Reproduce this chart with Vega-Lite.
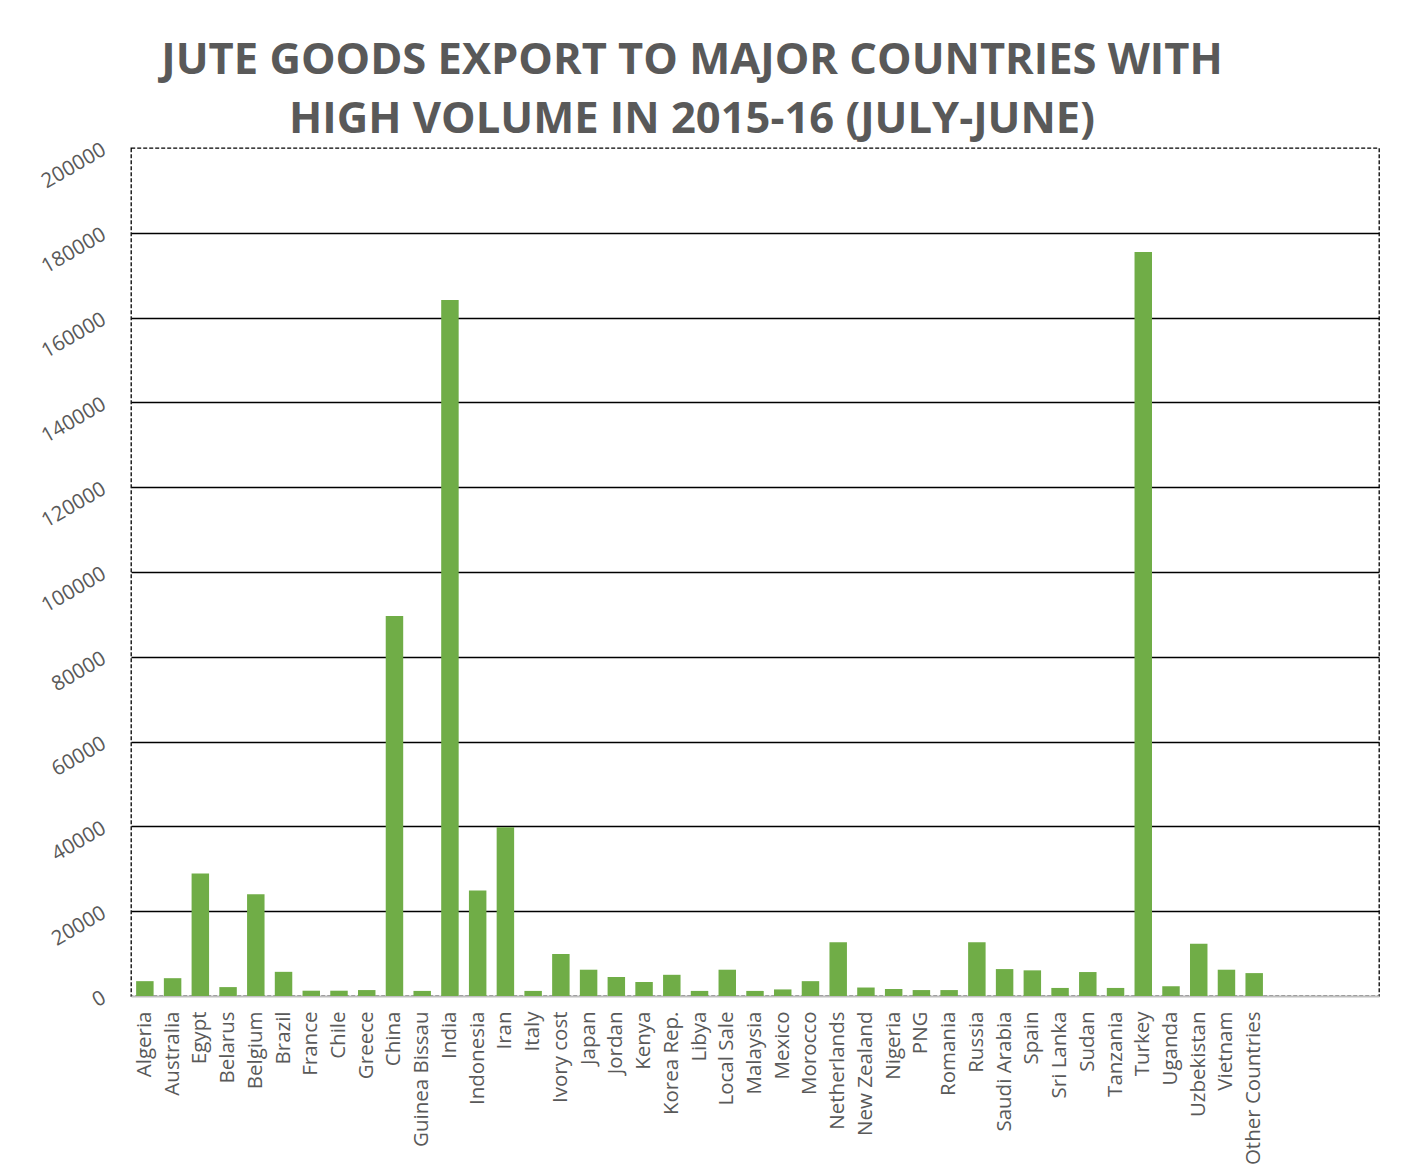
{
  "$schema": "https://vega.github.io/schema/vega-lite/v6.json",
  "autosize": {"type": "none"},
  "padding": {"left": 131, "top": 148, "right": 22, "bottom": 177},
  "width": 1248,
  "height": 848,
  "background": "white",
  "title": {
    "text": ["JUTE GOODS EXPORT TO MAJOR COUNTRIES WITH", "HIGH VOLUME IN 2015-16 (JULY-JUNE)"],
    "font": "Open Sans",
    "fontWeight": "bold",
    "fontSize": 43.5,
    "color": "#595959",
    "lineHeight": 59,
    "anchor": "middle",
    "dx": -63,
    "offset": -3
  },
  "data": {
    "values": [
      {"country": "Algeria", "volume": 3500},
      {"country": "Australia", "volume": 4200},
      {"country": "Egypt", "volume": 28900},
      {"country": "Belarus", "volume": 2100},
      {"country": "Belgium", "volume": 24000},
      {"country": "Brazil", "volume": 5700},
      {"country": "France", "volume": 1250},
      {"country": "Chile", "volume": 1250},
      {"country": "Greece", "volume": 1400},
      {"country": "China", "volume": 89600},
      {"country": "Guinea Bissau", "volume": 1200},
      {"country": "India", "volume": 164150},
      {"country": "Indonesia", "volume": 24900},
      {"country": "Iran", "volume": 39800},
      {"country": "Italy", "volume": 1200},
      {"country": "Ivory cost", "volume": 9900},
      {"country": "Japan", "volume": 6200},
      {"country": "Jordan", "volume": 4500},
      {"country": "Kenya", "volume": 3300},
      {"country": "Korea Rep.", "volume": 5000},
      {"country": "Libya", "volume": 1200},
      {"country": "Local Sale", "volume": 6200},
      {"country": "Malaysia", "volume": 1200},
      {"country": "Mexico", "volume": 1550},
      {"country": "Morocco", "volume": 3500},
      {"country": "Netherlands", "volume": 12650},
      {"country": "New Zealand", "volume": 2000},
      {"country": "Nigeria", "volume": 1650},
      {"country": "PNG", "volume": 1400},
      {"country": "Romania", "volume": 1400},
      {"country": "Russia", "volume": 12650},
      {"country": "Saudi Arabia", "volume": 6350},
      {"country": "Spain", "volume": 6050},
      {"country": "Sri Lanka", "volume": 1900},
      {"country": "Sudan", "volume": 5650},
      {"country": "Tanzania", "volume": 1900},
      {"country": "Turkey", "volume": 175500},
      {"country": "Uganda", "volume": 2300},
      {"country": "Uzbekistan", "volume": 12350},
      {"country": "Vietnam", "volume": 6200},
      {"country": "Other Countries", "volume": 5400}
    ]
  },
  "mark": {"type": "bar", "color": "#70AD47"},
  "encoding": {
    "x": {
      "field": "country",
      "type": "nominal",
      "sort": null,
      "scale": {
        "domain": ["Algeria","Australia","Egypt","Belarus","Belgium","Brazil","France","Chile","Greece","China","Guinea Bissau","India","Indonesia","Iran","Italy","Ivory cost","Japan","Jordan","Kenya","Korea Rep.","Libya","Local Sale","Malaysia","Mexico","Morocco","Netherlands","New Zealand","Nigeria","PNG","Romania","Russia","Saudi Arabia","Spain","Sri Lanka","Sudan","Tanzania","Turkey","Uganda","Uzbekistan","Vietnam","Other Countries"," ","  ","   ","    "],
        "paddingInner": 0.37,
        "paddingOuter": 0.185
      },
      "axis": {
        "title": null,
        "labelAngle": -90,
        "labelAlign": "right",
        "labelBaseline": "middle",
        "labelFont": "Open Sans",
        "labelFontSize": 20.5,
        "labelColor": "#595959",
        "labelPadding": 15,
        "ticks": false,
        "domainColor": "#BFBFBF",
        "domainWidth": 2,
        "grid": false
      }
    },
    "y": {
      "field": "volume",
      "type": "quantitative",
      "scale": {"domain": [0, 200000], "nice": false},
      "axis": {
        "title": null,
        "values": [0,20000,40000,60000,80000,100000,120000,140000,160000,180000,200000],
        "format": "d",
        "labelAngle": -30,
        "labelAlign": "right",
        "labelBaseline": "middle",
        "labelFont": "Open Sans",
        "labelFontSize": 20.5,
        "labelColor": "#595959",
        "labelPadding": 27,
        "ticks": false,
        "domain": false,
        "grid": true,
        "gridColor": {"condition": {"test": "datum.value == 0 || datum.value == 200000", "value": "transparent"}, "value": "#000000"},
        "gridWidth": 1.6
      }
    }
  },
  "config": {
    "view": {"stroke": "#000000", "strokeDash": [4, 2], "strokeWidth": 1.3}
  }
}
